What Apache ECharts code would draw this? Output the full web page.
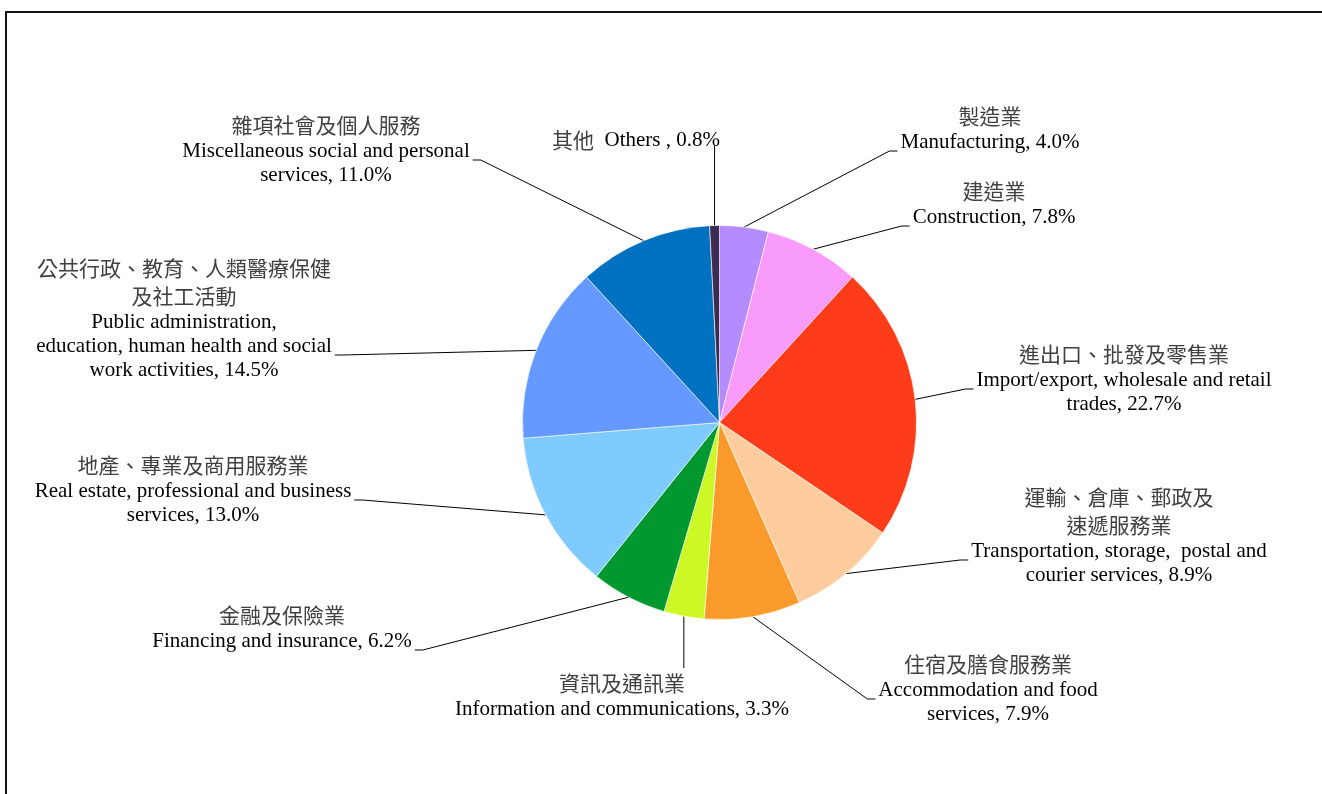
<!DOCTYPE html>
<html>
<head>
<meta charset="utf-8">
<script src="https://cdn.jsdelivr.net/npm/echarts@6/dist/echarts.min.js"></script>
<style>
  html, body { margin: 0; padding: 0; background: #ffffff; }
  #chart { width: 1322px; height: 794px; }
</style>
</head>
<body>
<div id="chart"></div>
<script>
// Share of each industry (%), clockwise from twelve o'clock
const zhNames = [
  '製造業',
  '建造業',
  '進出口、批發及零售業',
  '運輸、倉庫、郵政及\n速遞服務業',
  '住宿及膳食服務業',
  '資訊及通訊業',
  '金融及保險業',
  '地產、專業及商用服務業',
  '公共行政、教育、人類醫療保健\n及社工活動',
  '雜項社會及個人服務',
  '其他'
];
const enNames = [
  'Manufacturing',
  'Construction',
  'Import/export, wholesale and retail\ntrades',
  'Transportation, storage,  postal and\ncourier services',
  'Accommodation and food\nservices',
  'Information and communications',
  'Financing and insurance',
  'Real estate, professional and business\nservices',
  'Public administration,\neducation, human health and social\nwork activities',
  'Miscellaneous social and personal\nservices',
  '  Others '
];
const shares = [4.0, 7.8, 22.7, 8.9, 7.9, 3.3, 6.2, 13.0, 14.5, 11.0, 0.8];

const sliceColors = [
  '#B58CFF', '#F99BFA', '#FF3C19', '#FFCC9E', '#F99A2A', '#CCF826',
  '#00982F', '#7FCBFF', '#6699FF', '#0070C0', '#3D2B52'
];

// Where each label block sits (centre x, top y), which side its leader
// line meets, and which English line the leader points at.
const labelSpots = [
  { x: 990,  y: 102, side: 'left',   line: 0 },
  { x: 994,  y: 177, side: 'left',   line: 0 },
  { x: 1124, y: 340, side: 'left',   line: 0 },
  { x: 1119, y: 483, side: 'left',   line: 0 },
  { x: 988,  y: 650, side: 'left',   line: 0 },
  { x: 622,  y: 669, side: 'top',    line: 0 },
  { x: 282,  y: 601, side: 'right',  line: 0 },
  { x: 193,  y: 451, side: 'right',  line: 0 },
  { x: 184,  y: 254, side: 'right',  line: 1 },
  { x: 326,  y: 111, side: 'right',  line: 0 },
  { x: 636,  y: 126, side: 'bottom', line: 0, inline: true }
];

const ZH_LINE = 28;
const EN_LINE = 24;

const chart = echarts.init(document.getElementById('chart'), null, { renderer: 'canvas' });

const pieData = shares.map((v, i) => ({
  value: v,
  name: zhNames[i].replace(/\n/g, '') + ' ' + enNames[i].replace(/\n/g, ' ').trim(),
  itemStyle: { color: sliceColors[i] }
}));

chart.setOption({
  backgroundColor: '#ffffff',
  animation: false,
  graphic: [{
    type: 'rect',
    silent: true,
    z: -1,
    shape: { x: 6, y: 12, width: 1340, height: 820 },
    style: { fill: 'none', stroke: '#111111', lineWidth: 2 }
  }],
  series: [{
    type: 'pie',
    center: [719.5, 422.5],
    radius: 197,
    startAngle: 90,
    clockwise: true,
    avoidLabelOverlap: false,
    itemStyle: { borderColor: '#ffffff', borderWidth: 0.6 },
    emphasis: { disabled: true },
    data: pieData,
    label: {
      show: true,
      position: 'outside',
      align: 'center',
      color: '#000000',
      formatter: function (p) {
        const i = p.dataIndex;
        const sep = labelSpots[i].inline ? '' : '\n';
        return '{zh|' + zhNames[i] + '}' + sep + '{en|' + enNames[i] + ', ' + shares[i].toFixed(1) + '%}';
      },
      rich: {
        zh: {
          fontFamily: '"Noto Sans CJK TC", "Noto Sans CJK SC", sans-serif',
          fontSize: 21,
          lineHeight: ZH_LINE,
          color: '#404040',
          align: 'center'
        },
        en: {
          fontFamily: '"Liberation Serif", "Times New Roman", serif',
          fontSize: 21,
          lineHeight: EN_LINE,
          color: '#000000',
          align: 'center'
        }
      }
    },
    labelLine: {
      show: true,
      length: 10,
      length2: 8,
      lineStyle: { color: '#000000', width: 1 }
    },
    labelLayout: function (params) {
      const i = params.dataIndex;
      const s = labelSpots[i];
      const w = params.labelRect.width;
      const h = params.labelRect.height;
      const anchor = params.labelLinePoints ? params.labelLinePoints[0] : [s.x, s.y];
      const zhCount = s.inline ? 0 : zhNames[i].split('\n').length;
      let elbow, end;
      if (s.side === 'top') {
        end = [anchor[0], s.y - 1];
        elbow = end;
      } else if (s.side === 'bottom') {
        end = [anchor[0], s.y + h - 1];
        elbow = end;
      } else {
        const dir = s.side === 'left' ? -1 : 1;
        const yy = s.y + zhCount * ZH_LINE + s.line * EN_LINE + 21;
        const ex = s.x + dir * (w / 2 + 3);
        end = [ex, yy];
        elbow = [ex + dir * 8, yy];
      }
      return {
        x: s.x,
        y: s.y,
        align: 'center',
        verticalAlign: 'top',
        labelLinePoints: [anchor, elbow, end]
      };
    }
  }]
});
</script>
</body>
</html>
